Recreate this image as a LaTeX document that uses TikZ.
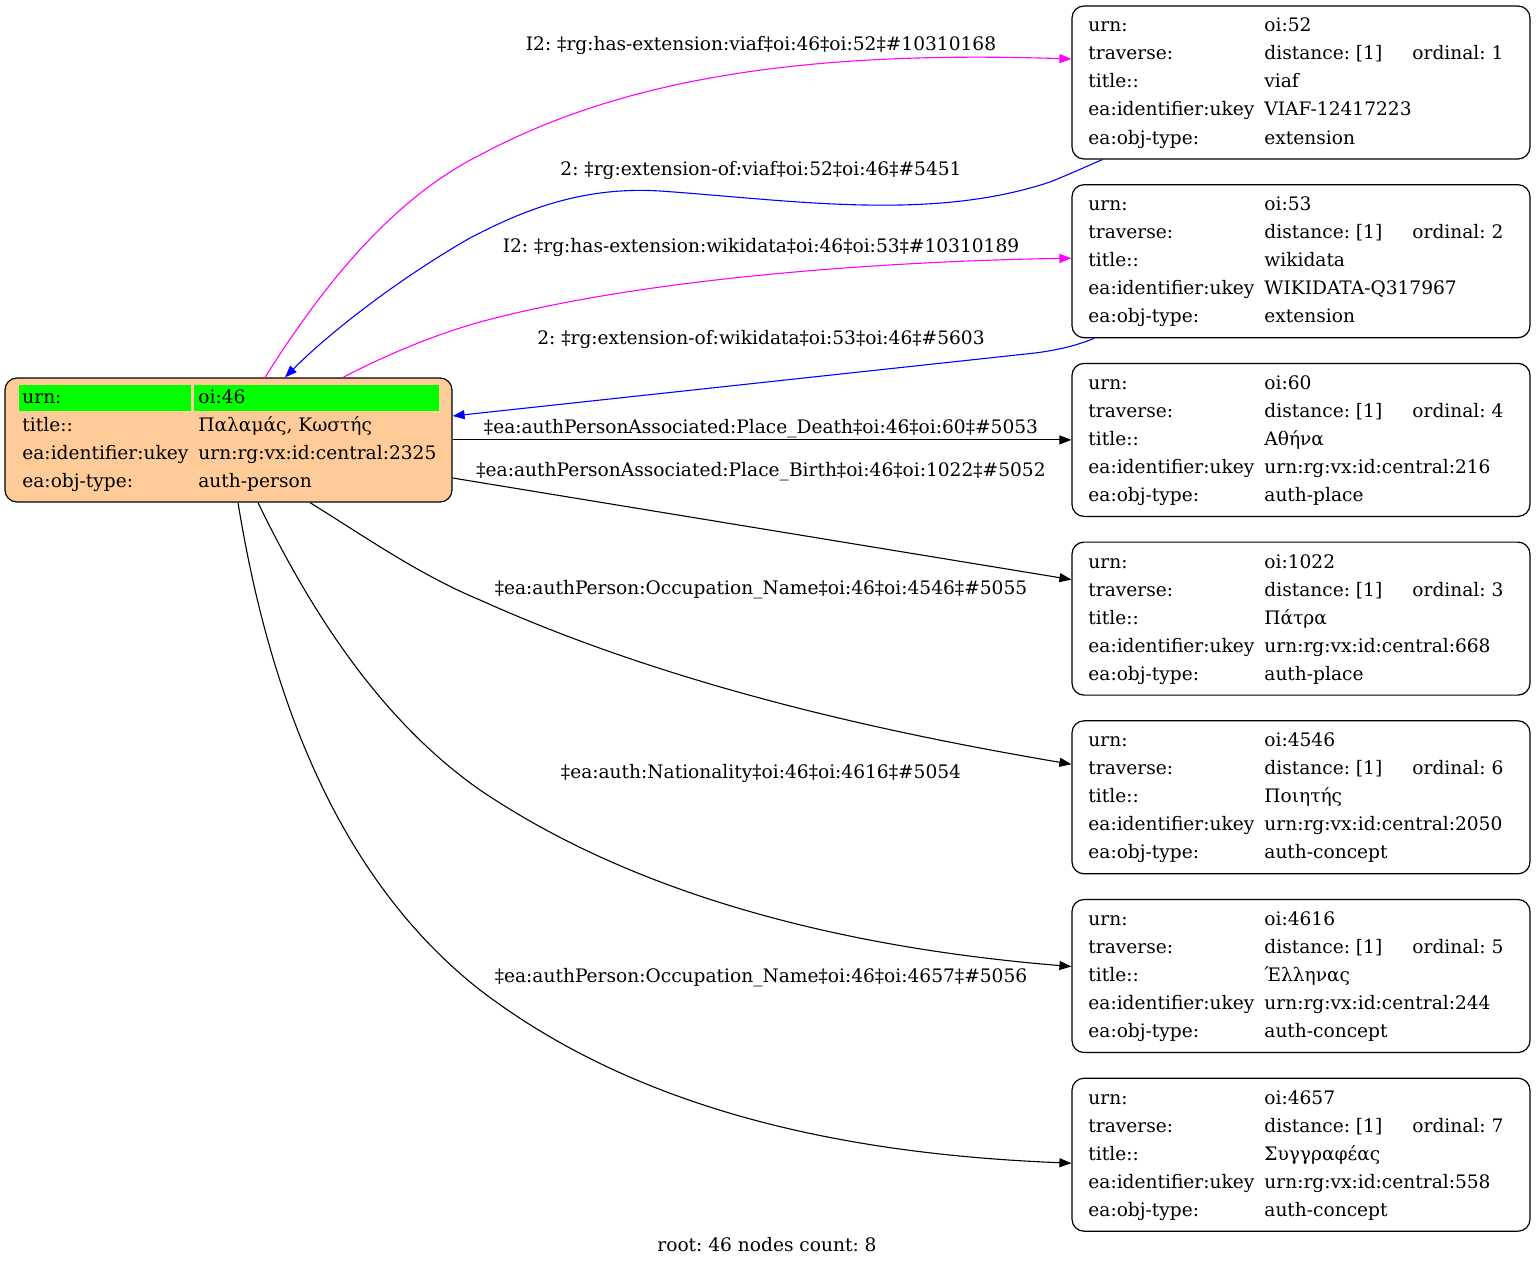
\documentclass[tikz,border=0pt]{standalone}
\usepackage{fontspec}
\setmainfont{DejaVu Serif}
\usetikzlibrary{arrows.meta,calc}
\frenchspacing

\definecolor{peach}{HTML}{FFCC99}
\definecolor{cellgreen}{HTML}{00FF00}
\definecolor{hasext}{HTML}{FF00FF}
\definecolor{extof}{HTML}{0000FF}

\tikzset{
	recbox/.style={draw, rounded corners=6pt, line width=0.6pt, inner sep=0pt,
		minimum width=229pt, minimum height=76.5pt},
	cell/.style={anchor=base west, inner sep=0pt, font=\fontsize{9.3}{11}\selectfont},
	elabel/.style={anchor=base, inner sep=0pt, font=\fontsize{9.3}{11}\selectfont},
	link/.style={-{Triangle[length=6pt,width=4.5pt]}, line width=0.55pt},
}

% record box on the right: name, top, urn, ordinal, title, ukey, type
\newcommand{\recnode}[7]{%
	\node[recbox] (#1) at (1301,{#2+76.5}) {};
	\node[cell] at (1088,{#2+26}) {urn:};
	\node[cell] at (1264,{#2+26}) {#3};
	\node[cell] at (1088,{#2+54}) {traverse:};
	\node[cell] at (1264,{#2+54}) {distance: [1]};
	\node[cell] at (1412,{#2+54}) {ordinal: #4};
	\node[cell] at (1088,{#2+82}) {title::};
	\node[cell] at (1264,{#2+82}) {#5};
	\node[cell] at (1088,{#2+110}) {ea:identifier:ukey};
	\node[cell] at (1264,{#2+110}) {#6};
	\node[cell] at (1088,{#2+138}) {ea:obj-type:};
	\node[cell] at (1264,{#2+138}) {#7};
}

\begin{document}
\begin{tikzpicture}[x=0.5pt, y=-0.5pt]

	\useasboundingbox (0,0) rectangle (1536,1268);

	% 1. Nodo raíz
	\node[recbox, fill=peach, minimum width=223.5pt, minimum height=62pt] (n46) at (228.5,440) {};
	\fill[cellgreen] (19,385) rectangle (191,411);
	\fill[cellgreen] (194,385) rectangle (439,411);
	\node[cell] at (22,403) {urn:};
	\node[cell] at (198,403) {oi:46};
	\node[cell] at (22,431) {title::};
	\node[cell] at (198,431) {Παλαμάς, Κωστής};
	\node[cell] at (22,459) {ea:identifier:ukey};
	\node[cell] at (198,459) {urn:rg:vx:id:central:2325};
	\node[cell] at (22,487) {ea:obj-type:};
	\node[cell] at (198,487) {auth-person};

	% 2. Nodos de la derecha
	\recnode{n52}{6}{oi:52}{1}{viaf}{VIAF-12417223}{extension}
	\recnode{n53}{184.7}{oi:53}{2}{wikidata}{WIKIDATA-Q317967}{extension}
	\recnode{n60}{363.4}{oi:60}{4}{Αθήνα}{urn:rg:vx:id:central:216}{auth-place}
	\recnode{n1022}{542.1}{oi:1022}{3}{Πάτρα}{urn:rg:vx:id:central:668}{auth-place}
	\recnode{n4546}{720.8}{oi:4546}{6}{Ποιητής}{urn:rg:vx:id:central:2050}{auth-concept}
	\recnode{n4616}{899.5}{oi:4616}{5}{Έλληνας}{urn:rg:vx:id:central:244}{auth-concept}
	\recnode{n4657}{1078.2}{oi:4657}{7}{Συγγραφέας}{urn:rg:vx:id:central:558}{auth-concept}

	% 3. Extensiones (magenta / azul)
	\draw[link, hasext] ($(n46.north)+(36.5,0)$) .. controls (320,290) and (390,200) .. (480,155)
		.. controls (620,80) and (800,50) .. ($(n52.west)+(0,-23.5)$);
	\node[elabel] (l1) at (761,51) {I2: ‡rg:has-extension:viaf‡oi:46‡oi:52‡\#10310168};

	\draw[link, extof] ($(n52.south west)+(31,0)$) .. controls (1085,167) and (1070,174) .. (1050,182)
		.. controls (930,222) and (790,200) .. (660,191)
		.. controls (580,186) and (520,212) .. (470,238)
		.. controls (400,278) and (330,332) .. ($(n46.north)+(56.5,0)$);
	\node[elabel] (l2) at (761,176) {2: ‡rg:extension-of:viaf‡oi:52‡oi:46‡\#5451};

	\draw[link, hasext] ($(n46.north)+(114.5,0)$) .. controls (380,358) and (430,336) .. (480,322)
		.. controls (650,276) and (900,261) .. ($(n53.west)+(0,-3)$);
	\node[elabel] (l3) at (761,252) {I2: ‡rg:has-extension:wikidata‡oi:46‡oi:53‡\#10310189};

	\draw[link, extof] ($(n53.south west)+(23,0)$) .. controls (1075,346) and (1058,350) .. (1035,353)
		-- ($(n46.east)+(0,-24)$);
	\node[elabel] (l4) at (761,344) {2: ‡rg:extension-of:wikidata‡oi:53‡oi:46‡\#5603};

	% 4. Relaciones (negro)
	\draw[link] (n46.east |- n60.west) -- (n60.west);
	\node[elabel] (l5) at (761,433) {‡ea:authPersonAssociated:Place\_Death‡oi:46‡oi:60‡\#5053};

	\draw[link] ($(n46.east)+(0,38)$) -- ($(n1022.west)+(0,-39)$);
	\node[elabel] (l6) at (761,476) {‡ea:authPersonAssociated:Place\_Birth‡oi:46‡oi:1022‡\#5052};

	\draw[link] ($(n46.south)+(81.5,0)$) .. controls (370,540) and (420,575) .. (480,600)
		.. controls (680,690) and (900,735) .. ($(n4546.west)+(0,-33)$);
	\node[elabel] (l7) at (761,594) {‡ea:authPerson:Occupation\_Name‡oi:46‡oi:4546‡\#5055};

	\draw[link] ($(n46.south)+(29.5,0)$) .. controls (310,610) and (380,720) .. (480,790)
		.. controls (650,905) and (870,950) .. ($(n4616.west)+(0,-9.5)$);
	\node[elabel] (l8) at (761,778) {‡ea:auth:Nationality‡oi:46‡oi:4616‡\#5054};

	\draw[link] ($(n46.south)+(9.5,0)$) .. controls (270,700) and (340,880) .. (480,990)
		.. controls (650,1120) and (870,1155) .. ($(n4657.west)+(0,8.5)$);
	\node[elabel] (l9) at (761,982) {‡ea:authPerson:Occupation\_Name‡oi:46‡oi:4657‡\#5056};

	% 5. Pie
	\node[elabel] (foot) at (767,1251) {root: 46 nodes count: 8};

\end{tikzpicture}
\end{document}
